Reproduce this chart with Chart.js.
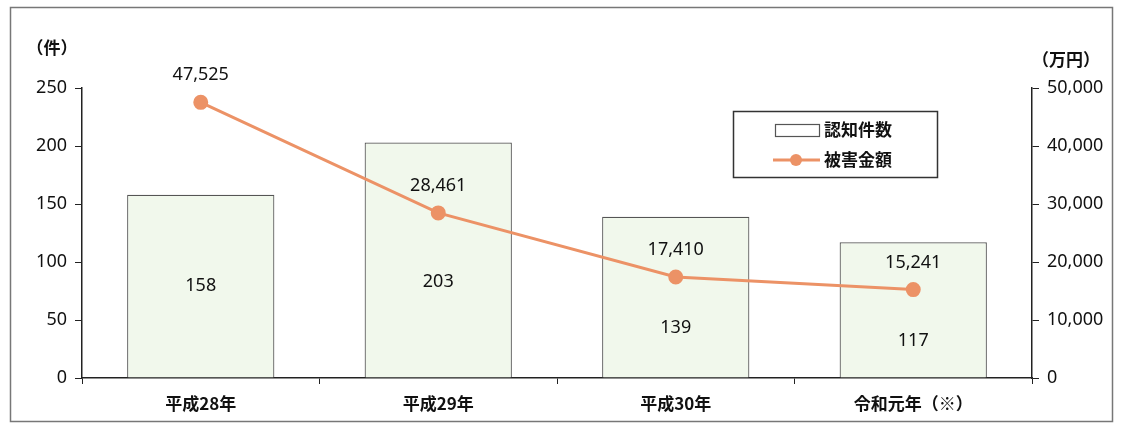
<!DOCTYPE html>
<html><head><meta charset="utf-8">
<script src="https://cdn.jsdelivr.net/npm/chart.js@4"></script>
<style>html,body{margin:0;padding:0;background:#fff}#wrap{width:1123px;height:423px}</style>
</head><body><div id="wrap"><canvas id="c"></canvas></div>
<script>
const categories = ['平成28年', '平成29年', '平成30年', '令和元年（※）'];
const casesCount = [158, 203, 139, 117];
const damageAmount = [47525, 28461, 17410, 15241];
const leftTicks = [0, 50, 100, 150, 200, 250];
const rightTicks = [0, 10000, 20000, 30000, 40000, 50000];
const seriesNames = ['認知件数', '被害金額'];
const axisUnits = ['（件）', '（万円）'];

const NUM_FONT = '"Noto Sans", "Liberation Sans", sans-serif';
const JP_FONT = '"Noto Sans CJK JP", sans-serif';
const LINE_COLOR = 'rgb(236,146,102)';
const BAR_FILL = '#f1f8ec';
const BAR_EDGE = '#555';
const TEXT = '#111';

const fmt = v => v.toLocaleString('en-US');

const decor = {
  id: 'decor',
  beforeDraw(chart) {
    const ctx = chart.ctx;
    ctx.save();
    ctx.fillStyle = '#fff';
    ctx.fillRect(0, 0, chart.width, chart.height);
    ctx.strokeStyle = '#777';
    ctx.lineWidth = 1.5;
    ctx.strokeRect(10.5, 7.5, 1102, 414);
    ctx.restore();
  },
  afterDatasetsDraw(chart) {
    const ctx = chart.ctx;
    ctx.save();
    // unit labels
    ctx.fillStyle = TEXT;
    ctx.font = 'bold 17px ' + JP_FONT;
    ctx.textBaseline = 'middle';
    ctx.textAlign = 'center';
    ctx.fillText(axisUnits[0], 52, 48);
    ctx.fillText(axisUnits[1], 1066, 60);

    // bar labels (placed at a fraction of each bar's height)
    const yS = chart.scales.y;
    const barMeta = chart.getDatasetMeta(0);
    const barLabelAt = [0.5, 0.41, 0.31, 0.27];
    ctx.font = '18px ' + NUM_FONT;
    barMeta.data.forEach((el, i) => {
      const v = casesCount[i] * barLabelAt[i];
      ctx.fillText(fmt(casesCount[i]), el.x, yS.getPixelForValue(v));
    });
    // line labels
    const lineMeta = chart.getDatasetMeta(1);
    lineMeta.data.forEach((el, i) => {
      ctx.fillText(fmt(damageAmount[i]), el.x, el.y - 27);
    });

    // legend
    const lx = 733, ly = 111, lw = 204, lh = 66;
    ctx.strokeStyle = '#333';
    ctx.lineWidth = 1.5;
    ctx.fillStyle = '#fff';
    ctx.fillRect(lx, ly, lw, lh);
    ctx.strokeRect(lx + 0.5, ly + 0.5, lw, lh);
    ctx.lineWidth = 1.2;
    ctx.strokeStyle = BAR_EDGE;
    ctx.fillStyle = '#fff';
    ctx.fillRect(775, 124, 44, 12);
    ctx.strokeRect(775.5, 124.5, 44, 12);
    ctx.strokeStyle = LINE_COLOR;
    ctx.lineWidth = 3;
    ctx.beginPath(); ctx.moveTo(773, 160); ctx.lineTo(820, 160); ctx.stroke();
    ctx.fillStyle = LINE_COLOR;
    ctx.beginPath(); ctx.arc(796, 160, 6, 0, Math.PI * 2); ctx.fill();
    ctx.fillStyle = TEXT;
    ctx.font = 'bold 17px ' + JP_FONT;
    ctx.textAlign = 'left';
    ctx.fillText(seriesNames[0], 824, 130);
    ctx.fillText(seriesNames[1], 824, 160);
    ctx.restore();
  }
};

new Chart(document.getElementById('c'), {
  data: {
    labels: categories,
    datasets: [
      {
        type: 'bar', label: seriesNames[0], data: casesCount, yAxisID: 'y',
        backgroundColor: BAR_FILL, borderColor: BAR_EDGE, borderWidth: 1.2,
        barPercentage: 0.62, categoryPercentage: 1, order: 2
      },
      {
        type: 'line', label: seriesNames[1], data: damageAmount, yAxisID: 'y1',
        borderColor: LINE_COLOR, backgroundColor: LINE_COLOR, borderWidth: 3,
        pointRadius: 6, pointHoverRadius: 6, pointBackgroundColor: LINE_COLOR,
        pointBorderColor: LINE_COLOR, tension: 0, order: 1
      }
    ]
  },
  options: {
    responsive: true, maintainAspectRatio: false, animation: false,
    devicePixelRatio: 1,
    layout: { padding: { top: 88, left: 0, right: 0, bottom: 0 } },
    plugins: { legend: { display: false }, tooltip: { enabled: false } },
    scales: {
      x: {
        grid: { display: true, drawOnChartArea: false, drawTicks: true, tickLength: 6, color: '#222', offset: true },
        border: { display: true, color: '#222', width: 1.5 },
        ticks: { color: TEXT, font: { family: JP_FONT, size: 17, weight: 'bold' }, padding: 9 },
        afterFit(s) { s.height = 45; }
      },
      y: {
        position: 'left', min: 0, max: 250,
        afterBuildTicks(s) { s.ticks = leftTicks.map(v => ({ value: v })); },
        grid: { display: true, drawOnChartArea: false, drawTicks: true, tickLength: 7, color: '#222' },
        border: { display: true, color: '#222', width: 1.5 },
        ticks: { color: TEXT, font: { family: NUM_FONT, size: 18 }, padding: 8, callback: v => fmt(v) },
        afterFit(s) { s.width = 82; }
      },
      y1: {
        position: 'right', min: 0, max: 50000,
        afterBuildTicks(s) { s.ticks = rightTicks.map(v => ({ value: v })); },
        grid: { display: true, drawOnChartArea: false, drawTicks: true, tickLength: 7, color: '#222' },
        border: { display: true, color: '#222', width: 1.5 },
        ticks: { color: TEXT, font: { family: NUM_FONT, size: 18 }, padding: 8, callback: v => fmt(v) },
        afterFit(s) { s.width = 91; }
      }
    }
  },
  plugins: [decor]
});
</script>
</body></html>
